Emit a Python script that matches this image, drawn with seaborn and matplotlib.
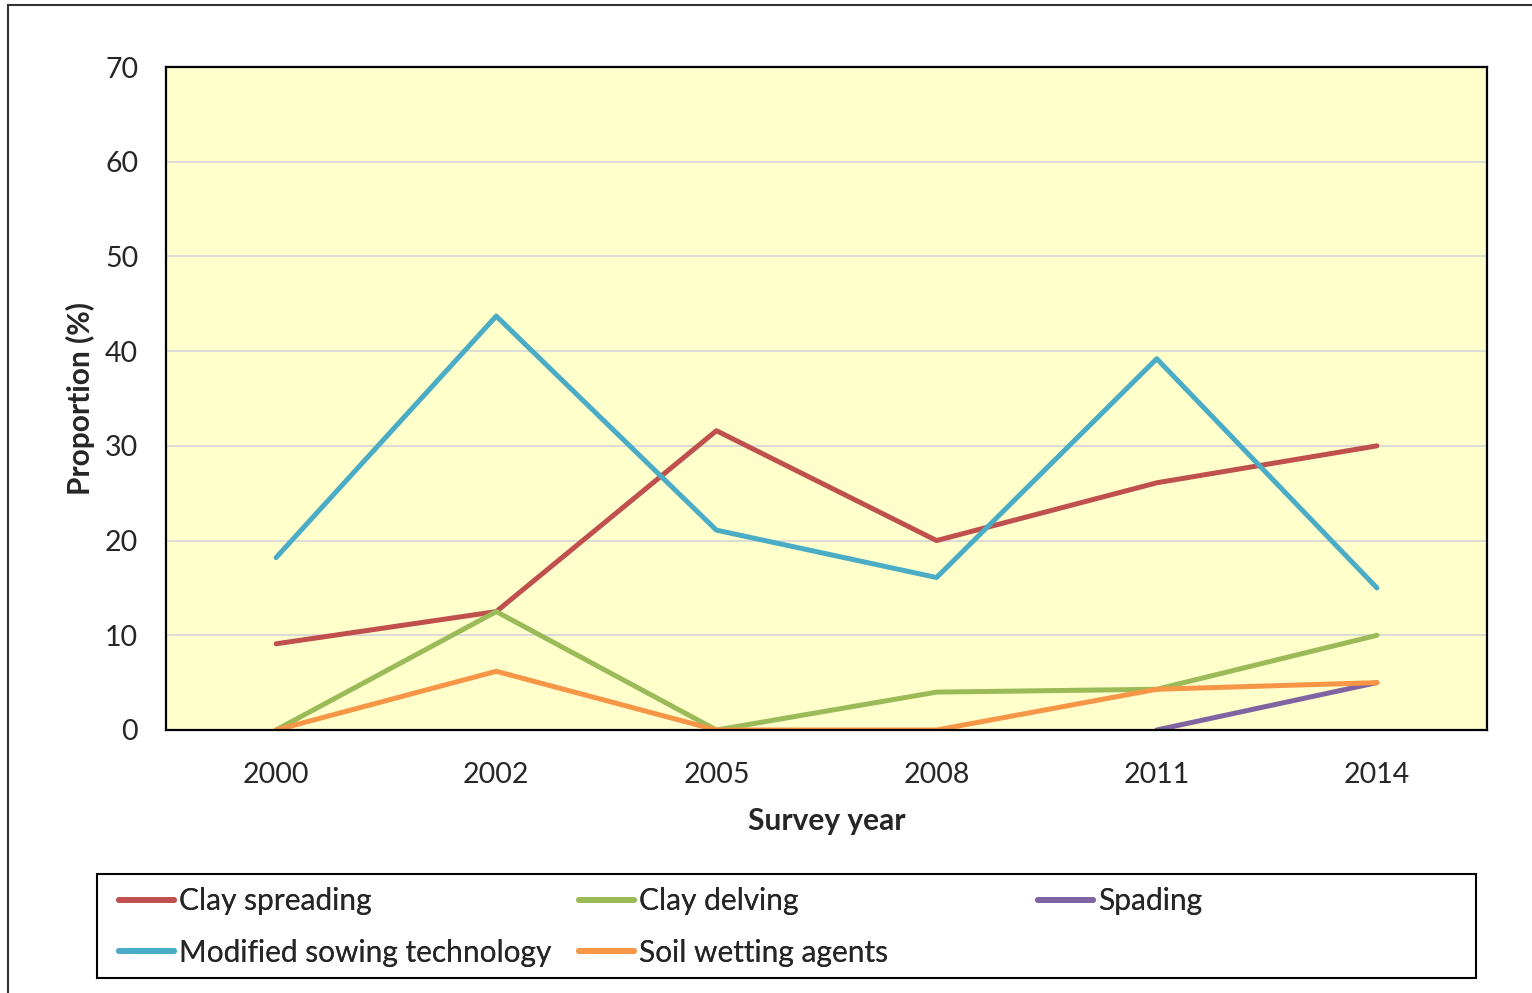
import pandas as pd
import seaborn as sns
import matplotlib.pyplot as plt
from matplotlib.patches import Rectangle

# Survey years (categorical x axis)
years = ['2000', '2002', '2005', '2008', '2011', '2014']

# Proportion (%) of respondents per practice
clay_spreading = [9.1, 12.5, 31.6, 20.0, 26.1, 30.0]
clay_delving = [0.0, 12.5, 0.0, 4.0, 4.3, 10.0]
spading = [None, None, None, None, 0.0, 5.0]
modified_sowing = [18.2, 43.7, 21.1, 16.1, 39.2, 15.0]
soil_wetting = [0.0, 6.2, 0.0, 0.0, 4.3, 5.0]

series = {
    'Clay spreading': clay_spreading,
    'Clay delving': clay_delving,
    'Spading': spading,
    'Modified sowing technology': modified_sowing,
    'Soil wetting agents': soil_wetting,
}
colors = {
    'Clay spreading': '#C0504D',
    'Clay delving': '#9BBB59',
    'Spading': '#8064A2',
    'Modified sowing technology': '#4BACC6',
    'Soil wetting agents': '#F79646',
}

# Long format table for seaborn
rows = []
for name, vals in series.items():
    for i, v in enumerate(vals):
        rows.append({'pos': i, 'Survey year': years[i], 'Practice': name, 'Proportion': v})
df = pd.DataFrame(rows).dropna()

sns.set_style('white')
plt.rcParams['font.family'] = ['Lato', 'DejaVu Sans']

fig = plt.figure(figsize=(15.32, 9.93), dpi=100)
ax = fig.add_axes([166 / 1532, 1 - 730 / 993, 1321 / 1532, 663 / 993])
ax.set_facecolor('#FFFFCC')

# outer chart border (cut off on the right and bottom like the original)
fig.patches.append(Rectangle((8 / 1532, -0.05), 1.1, 0.995 + 0.05,
                             transform=fig.transFigure, fill=False,
                             edgecolor='#333333', linewidth=1.5, zorder=0))

sns.lineplot(data=df, x='pos', y='Proportion', hue='Practice',
             hue_order=list(series.keys()), palette=colors,
             linewidth=3.6, ax=ax, legend=False, sort=False,
             solid_capstyle='round')

ax.set_xlim(-0.5, 5.5)
ax.set_ylim(0, 70)
ax.set_xticks(range(len(years)))
ax.set_xticklabels(years)
ax.set_yticks(range(0, 71, 10))
ax.tick_params(axis='both', length=0, labelsize=20.5)
ax.tick_params(axis='x', pad=23)
ax.tick_params(axis='y', pad=20)
ax.yaxis.grid(True, color='#D9D9D9', linewidth=1.3)
ax.set_axisbelow(True)
for s in ax.spines.values():
    s.set_visible(True)
    s.set_color('black')
    s.set_linewidth(1.6)

ax.set_xlabel('Survey year', fontsize=21.5, fontweight='bold')
ax.set_ylabel('Proportion (%)', fontsize=21.5, fontweight='bold')
ax.xaxis.set_label_coords(0.5, -0.116)
ax.yaxis.set_label_coords(-0.054, 0.5)

# legend: three columns of equal width inside one frame
fig.patches.append(Rectangle((97 / 1532, 1 - 978 / 993), 1379 / 1532, 104 / 993,
                             transform=fig.transFigure, fill=False,
                             edgecolor='black', linewidth=1.5))
columns = [['Clay spreading', 'Modified sowing technology'],
           ['Clay delving', 'Soil wetting agents'],
           ['Spading']]
col_x = [110, 570, 1029]
for names, x in zip(columns, col_x):
    handles = [plt.Line2D([], [], color=colors[n], linewidth=4.2, solid_capstyle='round')
               for n in names]
    leg = fig.legend(handles, names, loc='upper left',
                     bbox_to_anchor=(x / 1532, 1 - 878 / 993),
                     frameon=False, fontsize=21.5, handlelength=1.84,
                     handletextpad=0.17, labelspacing=0.8,
                     borderpad=0.3, borderaxespad=0)
    fig.add_artist(leg)

plt.savefig('out.png', dpi=100)
